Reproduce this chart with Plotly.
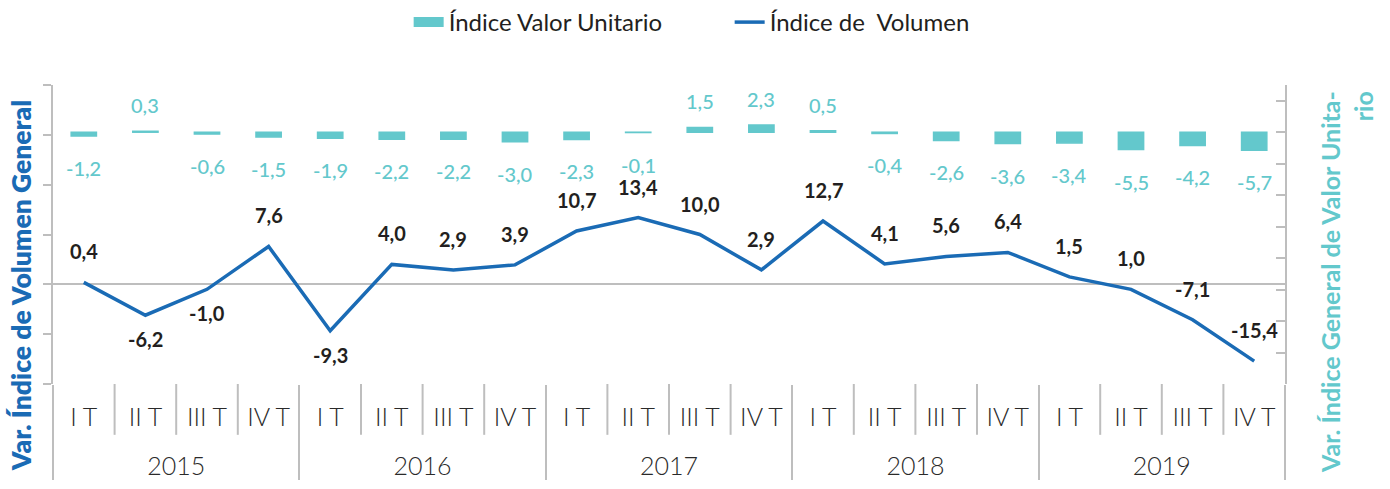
import plotly.graph_objects as go

# ---------------- data ----------------
years = ["2015"] * 4 + ["2016"] * 4 + ["2017"] * 4 + ["2018"] * 4 + ["2019"] * 4
quarters = ["I T", "II T", "III T", "IV T"] * 5

valor_unitario = [-1.2, 0.3, -0.6, -1.5, -1.9, -2.2, -2.2, -3.0, -2.3, -0.1,
                  1.5, 2.3, 0.5, -0.4, -2.6, -3.6, -3.4, -5.5, -4.2, -5.7]
volumen = [0.4, -6.2, -1.0, 7.6, -9.3, 4.0, 2.9, 3.9, 10.7, 13.4,
           10.0, 2.9, 12.7, 4.1, 5.6, 6.4, 1.5, -1.0, -7.1, -15.4]
volumen_labels = ["0,4", "-6,2", "-1,0", "7,6", "-9,3", "4,0", "2,9", "3,9", "10,7", "13,4",
                  "10,0", "2,9", "12,7", "4,1", "5,6", "6,4", "1,5", "1,0", "-7,1", "-15,4"]
volumen_label_side = ["above", "below", "below", "above", "below"] + ["above"] * 15

# ---------------- style ----------------
TEAL = "#63C8CC"
BLUE = "#1A6BB5"
GRAY = "#BEBEBE"
DARK = "#231F20"
FONT = "Lato"

# outer level gets a leading blank line to push the year labels lower
year_labels = ["&nbsp;<br>" + y for y in years]
x_mc = [year_labels, quarters]
n = len(quarters)

fig = go.Figure()

fig.add_trace(go.Bar(
    x=x_mc, y=valor_unitario, yaxis="y2", name="Índice Valor Unitario",
    marker=dict(color=TEAL, line=dict(color=TEAL, width=1.5)),
    showlegend=False,
))
# legend proxy for the bar series (wide rectangular swatch)
fig.add_trace(go.Scatter(
    x=[None], y=[None], mode="lines", name="Índice Valor Unitario",
    line=dict(color=TEAL, width=14), yaxis="y2",
))
fig.add_trace(go.Scatter(
    x=x_mc, y=volumen, mode="lines", name="Índice de  Volumen",
    line=dict(color=BLUE, width=3.5),
))

annotations = []
for i, v in enumerate(valor_unitario):
    txt = f"{v:.1f}".replace(".", ",")
    annotations.append(dict(
        x=i, y=v, xref="x", yref="y2", text=txt, showarrow=False,
        yshift=26 if v >= 0 else -32,
        font=dict(family=FONT, size=20, color=TEAL, weight=500),
    ))
for i, (v, lab, side) in enumerate(zip(volumen, volumen_labels, volumen_label_side)):
    annotations.append(dict(
        x=i, y=v, xref="x", yref="y", text=lab, showarrow=False,
        yshift=31 if side == "above" else -24,
        font=dict(family=FONT, size=20, color=DARK, weight=700),
    ))

# axis titles
annotations.append(dict(
    x=-0.026, y=0.33, xref="paper", yref="paper", textangle=-90,
    text="Var. Índice de Volumen General", showarrow=False,
    xanchor="center", yanchor="middle",
    font=dict(family=FONT, size=26.5, color=BLUE, weight=800),
))
annotations.append(dict(
    x=1.050, y=0.34, xref="paper", yref="paper", textangle=-90,
    text="Var. Índice General de Valor Unita-<br>rio", showarrow=False,
    align="right", xanchor="center", yanchor="middle",
    font=dict(family=FONT, size=25, color=TEAL, weight=700),
))

# quarter separators below the axis
shapes = []
for i in range(1, n):
    if years[i] == years[i - 1]:
        shapes.append(dict(
            type="line", xref="x", yref="paper", x0=i - 0.5, x1=i - 0.5,
            y0=0, y1=-0.17, line=dict(color=GRAY, width=2),
        ))

fig.update_layout(
    width=1390, height=489,
    margin=dict(l=53, r=105, t=85, b=105, autoexpand=False),
    plot_bgcolor="white", paper_bgcolor="white",
    bargap=0.59,
    showlegend=True,
    legend=dict(
        orientation="h", xref="container", yref="container",
        x=0.294, y=1.0, xanchor="left", yanchor="top",
        entrywidth=276, entrywidthmode="pixels",
        font=dict(family=FONT, size=24, color=DARK),
        traceorder="normal",
    ),
    annotations=annotations,
    shapes=shapes,
    xaxis=dict(
        type="multicategory", showgrid=False, showline=False, zeroline=False,
        automargin=False, ticks="", tickson="boundaries", ticklabelstandoff=16,
        showdividers=True, dividercolor=GRAY, dividerwidth=2,
        tickfont=dict(family=FONT, size=25, color="#2a2a2a", weight=300),
    ),
    yaxis=dict(
        range=[-20, 40], dtick=10, showticklabels=False, showgrid=False,
        automargin=False,
        showline=True, linecolor=GRAY, linewidth=2,
        ticks="outside", ticklen=8, tickcolor=GRAY, tickwidth=2,
        zeroline=True, zerolinecolor=GRAY, zerolinewidth=2,
    ),
    yaxis2=dict(
        range=[-80, 15], dtick=10, overlaying="y", side="right",
        automargin=False,
        showticklabels=False, showgrid=False, zeroline=False,
        showline=True, linecolor=GRAY, linewidth=2,
        ticks="inside", ticklen=9, tickcolor=GRAY, tickwidth=2,
    ),
)

fig.write_html("out.html", config={"displayModeBar": False},
               post_script="document.body.style.margin='0';")
